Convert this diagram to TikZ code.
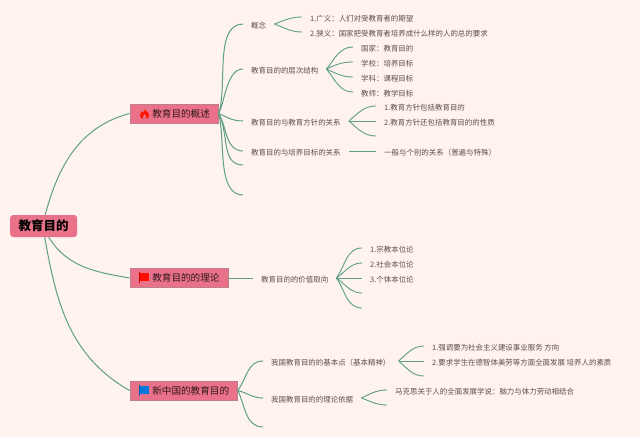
\documentclass[tikz,border=0pt]{standalone}
\usepackage{fontspec}
\setmainfont{Noto Sans CJK SC}
\definecolor{paper}{HTML}{FEF3EE}
\definecolor{rosebox}{HTML}{E9728A}
\definecolor{roseedge}{HTML}{BC7F8B}
\definecolor{linkgreen}{HTML}{5E9F86}
\definecolor{leaftext}{HTML}{5C4E4C}
\tikzset{
  rootbox/.style={fill=rosebox, rounded corners=3pt, anchor=west, minimum width=67pt, minimum height=22pt, inner sep=0pt, font=\fontsize{12.5}{14}\selectfont\bfseries, text=black},
  branchbox/.style={draw=roseedge, line width=.6pt, fill=rosebox, anchor=west, minimum height=19pt, inner xsep=8.5pt, inner ysep=0pt, font=\fontsize{9.6}{11}\selectfont, text=black!80!rosebox},
  leaf/.style={anchor=west, inner xsep=8pt, inner ysep=0pt, text height=9.6pt, text depth=1pt, font=\fontsize{7.45}{9}\selectfont, text=leaftext},
  link/.style={draw=linkgreen, line width=1pt},
  sublink/.style={draw=linkgreen, line width=.9pt}
}
\begin{document}
\begin{tikzpicture}[x=1pt, y=-1pt]
    \fill[paper] (0, 0) rectangle (640, 437);
    \useasboundingbox (0, 0) rectangle (640, 437);
    % Main nodes
    \node[rootbox] (root) at (10, 226) {教育目的};
    \node[branchbox] (overview) at (129.5, 113.5) {\hspace*{14pt}教育目的概述};
    \node[branchbox] (theory) at (129.5, 278) {\hspace*{14pt}教育目的的理论};
    \node[branchbox] (newchina) at (129.5, 390.5) {\hspace*{14pt}新中国的教育目的};
    % Icons
    \fill[red!85!orange] (144.5, 108) .. controls (145, 111) and (149, 112) .. (149, 115.5) .. controls (149, 118) and (147, 119) .. (144.5, 119) .. controls (142, 119) and (140, 118) .. (140, 115.5) .. controls (140, 113.5) and (141.5, 112.5) .. (142, 111) .. controls (143, 112) and (143.5, 112.5) .. (143.5, 113) .. controls (144.5, 111.5) and (145, 110) .. (144.5, 108);
    \fill[rosebox] (144.5, 114) .. controls (146, 115.5) and (146.5, 116.5) .. (146, 119) -- (143, 119) .. controls (142.5, 117) and (143.5, 115.5) .. (144.5, 114);
    \fill[red!90!orange] (140, 272.5) rectangle (149, 281);
    \draw[red!80!black, line width=.6pt] (139.5, 272) -- (139.5, 283);
    \fill[blue!45!cyan!85!black] (140, 385.5) rectangle (149, 394);
    \draw[blue!45!cyan!70!black, line width=.6pt] (139.5, 385) -- (139.5, 396);
    % First branch
    \node[leaf] (concept) at (243, 24) {概念};
    \node[leaf] (levels) at (243, 69) {教育目的的层次结构};
    \node[leaf] (policy) at (243, 121) {教育目的与教育方针的关系};
    \node[leaf] (goals) at (243, 151) {教育目的与培养目标的关系};
    \coordinate (blanka) at (243, 165);
    \coordinate (blankb) at (243, 195);
    \node[leaf] (broad) at (302, 17) {1.广义：人们对受教育者的期望};
    \node[leaf] (narrow) at (302, 32) {2.狭义：国家把受教育者培养成什么样的人的总的要求};
    \node[leaf] (state) at (353, 47) {国家：教育目的};
    \node[leaf] (school) at (353, 62) {学校：培养目标};
    \node[leaf] (subject) at (353, 77) {学科：课程目标};
    \node[leaf] (teacher) at (353, 92) {教师：教学目标};
    \node[leaf] (includes) at (376, 106) {1.教育方针包括教育目的};
    \node[leaf] (nature) at (376, 121) {2.教育方针还包括教育目的的性质};
    \coordinate (blankc) at (376, 136);
    \node[leaf] (general) at (376, 151) {一般与个别的关系（普遍与特殊）};
    % Second branch
    \node[leaf] (value) at (253, 278) {教育目的的价值取向};
    \node[leaf] (religion) at (362, 248) {1.宗教本位论};
    \node[leaf] (society) at (362, 263) {2.社会本位论};
    \node[leaf] (person) at (362, 278) {3.个体本位论};
    \coordinate (blankd) at (362, 293);
    \coordinate (blanke) at (362, 308);
    % Third branch
    \node[leaf] (basics) at (263, 361) {我国教育目的的基本点（基本精神）};
    \node[leaf] (grounds) at (263, 398) {我国教育目的的理论依据};
    \coordinate (blankf) at (263, 427);
    \node[leaf] (service) at (424, 346) {1.强调要为社会主义建设事业服务 方向};
    \node[leaf] (allround) at (424, 361) {2.要求学生在德智体美劳等方面全面发展 培养人的素质};
    \coordinate (blankg) at (424, 376);
    \node[leaf] (marx) at (387, 390) {马克思关于人的全面发展学说：脑力与体力劳动相结合};
    \coordinate (blankh) at (387, 405);
    % Connectors from the root
    \draw[link] (root.north) ++(1.5, 0) to[out=75, in=195] (overview.west);
    \draw[link] ([xshift=5pt]root.south) to[out=-58, in=170] (theory.west);
    \draw[link] ([xshift=1pt]root.south) to[out=-80, in=150] (newchina.west);
    % Connectors of the first branch
    \draw[link] (overview.east) to[out=72, in=180, looseness=.8] (concept.west);
    \draw[link] (overview.east) to[out=65, in=180, looseness=.8] (levels.west);
    \draw[link] (overview.east) to[out=-25, in=180] (policy.west);
    \draw[link] (overview.east) to[out=-60, in=180] (goals.west);
    \draw[link] (overview.east) to[out=-62, in=180] (blanka);
    \draw[link] (overview.east) to[out=-75, in=180, looseness=.8] (blankb);
    \draw[sublink] (concept.east) to[out=20, in=180] (broad.west);
    \draw[sublink] (concept.east) to[out=-20, in=180] (narrow.west);
    \draw[sublink] (levels.east) to[out=50, in=180] (state.west);
    \draw[sublink] (levels.east) to[out=25, in=180] (school.west);
    \draw[sublink] (levels.east) to[out=-25, in=180] (subject.west);
    \draw[sublink] (levels.east) to[out=-50, in=180] (teacher.west);
    \draw[sublink] (policy.east) to[out=40, in=180] (includes.west);
    \draw[sublink] (policy.east) -- (nature.west);
    \draw[sublink] (policy.east) to[out=-40, in=180] (blankc);
    \draw[sublink] (goals.east) -- (general.west);
    % Connectors of the second branch
    \draw[link] (theory.east) -- (value.west);
    \draw[sublink] (value.east) to[out=55, in=180] (religion.west);
    \draw[sublink] (value.east) to[out=35, in=180] (society.west);
    \draw[sublink] (value.east) -- (person.west);
    \draw[sublink] (value.east) to[out=-35, in=180] (blankd);
    \draw[sublink] (value.east) to[out=-55, in=180] (blanke);
    % Connectors of the third branch
    \draw[link] (newchina.east) to[out=55, in=180] (basics.west);
    \draw[link] (newchina.east) to[out=-15, in=180] (grounds.west);
    \draw[link] (newchina.east) to[out=-65, in=180] (blankf);
    \draw[sublink] (basics.east) to[out=40, in=180] (service.west);
    \draw[sublink] (basics.east) -- (allround.west);
    \draw[sublink] (basics.east) to[out=-40, in=180] (blankg);
    \draw[sublink] (grounds.east) to[out=25, in=180] (marx.west);
    \draw[sublink] (grounds.east) to[out=-20, in=180] (blankh);
\end{tikzpicture}
\end{document}
